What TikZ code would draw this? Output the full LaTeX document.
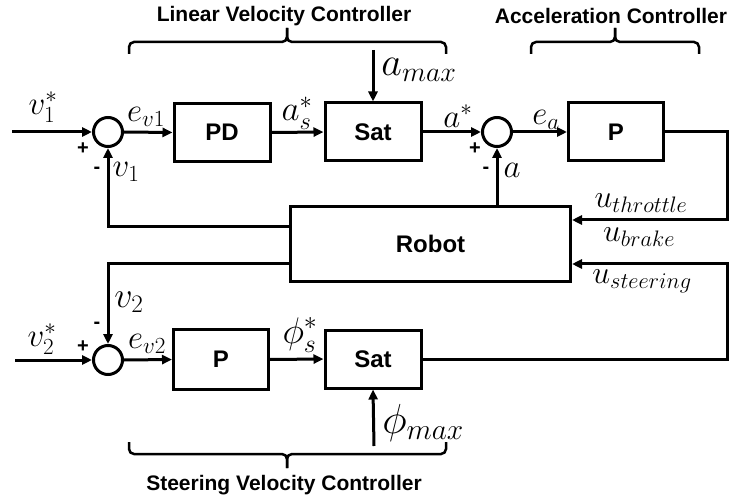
\RequirePackage{fix-cm}
\documentclass[tikz,border=0pt]{standalone}
\usepackage{fontspec}
\newfontfamily\sansb{Liberation Sans}
\usetikzlibrary{arrows.meta}
\begin{document}
\begin{tikzpicture}[x=1pt,y=-1pt,
  blk/.style={draw, line width=3pt, minimum width=96pt, minimum height=58pt, inner sep=0pt,
    font=\sansb\bfseries\fontsize{24}{24}\selectfont},
  sumc/.style={draw, circle, line width=3pt, minimum size=29pt, inner sep=0pt},
  arr/.style={line width=3pt, -{Triangle[length=10pt,width=9pt]}},
  ln/.style={line width=3pt},
  brc/.style={line width=2.5pt, rounded corners=5pt},
  ml/.style={inner sep=0pt, font=\fontsize{33}{33}\selectfont},
  hd/.style={inner sep=0pt, font=\sansb\bfseries\fontsize{21}{21}\selectfont},
  sg/.style={inner sep=0pt, font=\sansb\bfseries\fontsize{20}{20}\selectfont}]
\useasboundingbox (0,0) rectangle (732,500);

% blocks
\node[sumc] (sum1) at (108,132) {};
\node[blk] (pd) at (222,132.5) {PD};
\node[blk] (sat1) at (373,132) {Sat};
\node[sumc] (sum2) at (497,132) {};
\node[blk, minimum width=95pt] (p1) at (616,132) {P};
\node[blk, minimum width=280pt, minimum height=75pt] (robot) at (430.5,244) {Robot};
\node[sumc] (sum3) at (108,360) {};
\node[blk, minimum width=95pt, minimum height=60pt] (p2) at (221,359.5) {P};
\node[blk] (sat2) at (373,359) {Sat};

% coordinates
\coordinate (in1) at (12,132);
\coordinate (in2) at (15,360);
\coordinate (amax) at (373,50);
\coordinate (phimax) at (374,446);
\coordinate (thr) at (727,220);
\coordinate (str) at (727,264);
\coordinate (v1c) at (108,227);
\coordinate (v2c) at (108,264);

% connectors
\draw[arr] (in1) -- (sum1.west);
\draw[arr] (sum1.east) -- (pd.west);
\draw[arr] (pd.east) -- (sat1.west);
\draw[arr] (amax) -- (sat1.north);
\draw[arr] (sat1.east) -- (sum2.west);
\draw[arr] (sum2.east) -- (p1.west);
\draw[arr] (p1.east) -| (thr) -- (thr -| robot.east);
\draw[arr] (sum2 |- robot.north) -- (sum2.south);
\draw[arr] (v1c -| robot.west) -- (v1c) -- (sum1.south);
\draw[arr] (v2c -| robot.west) -- (v2c) -- (sum3.north);
\draw[arr] (in2) -- (sum3.west);
\draw[arr] (sum3.east) -- (p2.west);
\draw[arr] (p2.east) -- (sat2.west);
\draw[arr] (phimax) -- (sat2.south);
\draw[arr] (sat2.east) -| (str) -- (str -| robot.east);

% braces
\draw[brc] (129,54) -- (129,42) -- (287,42) -- (287,28);
\draw[brc] (446,54) -- (446,42) -- (287,42) -- (287,28);
\draw[brc] (531,54) -- (531,42) -- (615,42) -- (615,28);
\draw[brc] (699,54) -- (699,42) -- (615,42) -- (615,28);
\draw[brc] (129,442) -- (129,454) -- (287,454) -- (287,468);
\draw[brc] (446,442) -- (446,454) -- (287,454) -- (287,468);

% headings
\node[hd] (hlin) at (284,16) {Linear Velocity Controller};
\node[hd] (hacc) at (611,16) {Acceleration Controller};
\node[hd] (hste) at (284,485) {Steering Velocity Controller};

% signs
\node[sg] (pl1) at (83,149) {+};
\node[sg] (mi1) at (97,170) {-};
\node[sg] (pl2) at (475,149) {+};
\node[sg] (mi2) at (486,170) {-};
\node[sg] (pl3) at (83,347) {+};
\node[sg] (mi3) at (97,325) {-};

% math labels
\node[ml] (lv1s) at (43,107) {$v_1^*$};
\node[ml] (lev1) at (146,117) {$e_{v1}$};
\node[ml] (lv1) at (126,172) {$v_1$};
\node[ml, font=\fontsize{35}{35}\selectfont] (las) at (297,113) {$a_s^*$};
\node[ml, font=\fontsize{40}{40}\selectfont] (lamax) at (419,70) {$a_{max}$};
\node[ml] (lastar) at (458,116) {$a^*$};
\node[ml] (lea) at (546,120) {$e_a$};
\node[ml] (la) at (512,170) {$a$};
\node[ml, font=\fontsize{32}{32}\selectfont] (luth) at (641,203) {$u_{throttle}$};
\node[ml, font=\fontsize{32}{32}\selectfont] (lubr) at (639,237) {$u_{brake}$};
\node[ml, font=\fontsize{32}{32}\selectfont] (lust) at (642,281) {$u_{steering}$};
\node[ml, font=\fontsize{36}{36}\selectfont] (lv2) at (129,302) {$v_2$};
\node[ml] (lv2s) at (42,339) {$v_2^*$};
\node[ml] (lev2) at (147,344) {$e_{v2}$};
\node[ml, font=\fontsize{37}{37}\selectfont] (lphis) at (300,335) {$\phi_s^*$};
\node[ml, font=\fontsize{42}{42}\selectfont] (lphimax) at (423,423) {$\phi_{max}$};
\end{tikzpicture}
\end{document}
